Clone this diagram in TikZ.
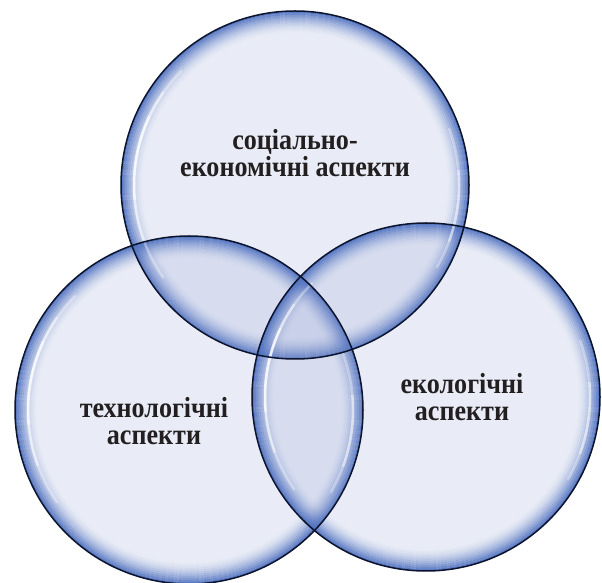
\documentclass[tikz,border=0pt]{standalone}
\usepackage{fontspec}
\setmainfont[FakeStretch=0.9]{Liberation Serif}
\definecolor{basefill}{RGB}{145,160,210}
\definecolor{glowblue}{RGB}{75,110,190}
\definecolor{rimcol}{RGB}{12,20,45}
\definecolor{txt}{RGB}{35,31,32}
\tikzset{
  bubblebase/.style={fill=basefill, fill opacity=0.2},
  glowring/.style={draw=glowblue, line width=2.1pt},
  bubblerim/.style={draw=rimcol, line width=1.5pt},
  shine/.style={draw=white, line width=2.5pt, line cap=round},
  lbl/.style={font=\fontsize{29}{26.5}\selectfont\bfseries, text=txt, align=center}
}
\begin{document}
\begin{tikzpicture}[x=1pt,y=1pt]
\useasboundingbox (0,0) rectangle (602,583);
\coordinate (ctop) at (295,398);
\coordinate (cleft) at (189,173);
\coordinate (cright) at (426,186);
\foreach \c in {ctop,cleft,cright}{
  \fill[bubblebase] (\c) circle[radius=174pt];
  \foreach \k in {0,...,10}{
    \pgfmathsetmacro{\rr}{173-2*\k}
    \pgfmathsetmacro{\op}{0.9*(1-\k/11)^1.8}
    \draw[glowring, draw opacity=\op] (\c) circle[radius=\rr pt];
  }
}
\foreach \c in {ctop,cleft,cright}{
  \draw[shine, draw opacity=0.35] ([shift={(135:161pt)}]\c) arc[start angle=135, end angle=215, radius=161pt];
  \draw[shine, draw opacity=0.45] ([shift={(145:161pt)}]\c) arc[start angle=145, end angle=200, radius=161pt];
  \draw[shine, draw opacity=0.6] ([shift={(155:161pt)}]\c) arc[start angle=155, end angle=185, radius=161pt];
  \draw[shine, draw opacity=0.3] ([shift={(-30:164pt)}]\c) arc[start angle=-30, end angle=20, radius=164pt];
  \draw[shine, draw opacity=0.4] ([shift={(-20:164pt)}]\c) arc[start angle=-20, end angle=5, radius=164pt];
}
\foreach \c in {ctop,cleft,cright}{
  \draw[bubblerim] (\c) circle[radius=174pt];
}
\node[lbl] (ltop) at (295,430) {соціально-\\економічні аспекти};
\node[lbl] (lleft) at (154,162) {технологічні\\аспекти};
\node[lbl] (lright) at (462,186) {екологічні\\аспекти};
\end{tikzpicture}
\end{document}
